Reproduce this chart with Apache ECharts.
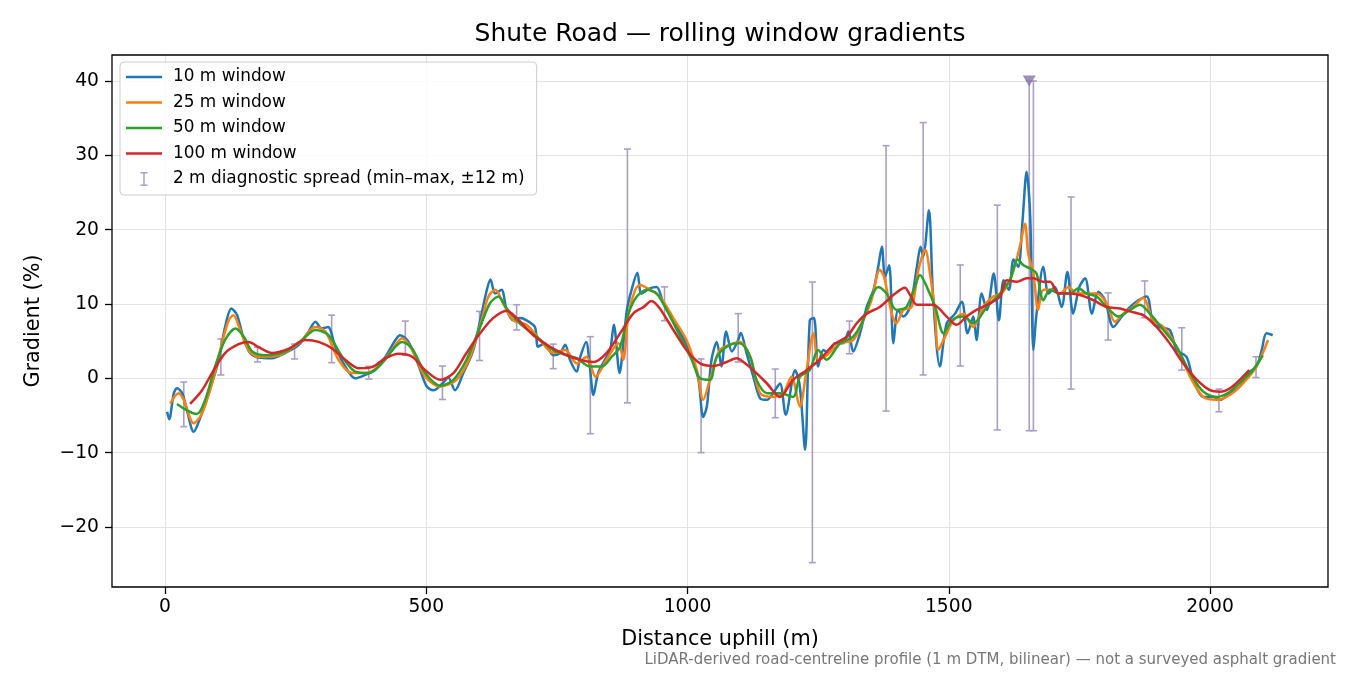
<!DOCTYPE html>
<html>
<head>
<meta charset="utf-8">
<script src="https://cdn.jsdelivr.net/npm/echarts@6/dist/echarts.min.js"></script>
<style>
  html, body { margin: 0; padding: 0; background: #fff; }
  #chart { width: 1350px; height: 675px; }
</style>
</head>
<body>
<div id="chart"></div>
<script>
// distance (m), gradient (%)
var win10 = [
  [4,-4.5],[8,-5.5],[17,-2.0],[23,-1.35],[33,-2.0],[42,-4.3],[55,-7.2],[68,-5.2],[84,-2.0],[103,2.5],
  [115,6.9],[127,9.4],[138,8.5],[151,5.2],[163,3.4],[179,2.8],[205,2.7],[230,3.4],[256,4.5],[275,6.3],
  [288,7.6],[300,6.7],[312,6.9],[326,4.25],[345,1.6],[364,0],[383,0.45],[402,1.1],[422,2.9],[441,5.15],
  [450,5.8],[466,4.9],[486,1.6],[501,-1.1],[514,-1.6],[531,-0.7],[542,0.1],[555,-1.6],[571,0.7],[590,3.8],
  [606,8.7],[616,11.9],[623,13.3],[632,11.4],[644,11.9],[654,9.2],[667,7.8],[679,8.1],[692,7.8],[708,6.9],
  [714,4.25],[727,4.7],[743,3.1],[756,3.4],[766,4.5],[775,2.5],[788,0.9],[794,2.7],[806,4.9],[813,1.6],
  [820,-2.25],[829,0.7],[842,2.5],[852,3.8],[859,7.2],[870,0.7],[878,5.15],[884,9.2],[893,11.9],[904,14.2],
  [912,11.4],[928,12.1],[941,12.3],[954,10.1],[973,7.8],[992,5.4],[1008,2.9],[1021,-0.2],[1030,-5.2],[1037,-3.8],
  [1046,2.5],[1056,4.9],[1065,1.6],[1074,6.3],[1085,3.6],[1097,5.15],[1102,6.1],[1113,3.4],[1126,0.2],[1139,-2.7],
  [1152,-2.9],[1164,-2.0],[1177,-0.7],[1188,-4.9],[1206,1.1],[1215,-1.1],[1225,-9.6],[1234,7.8],[1242,8.1],[1250,1.6],
  [1260,3.8],[1270,3.4],[1282,4.7],[1298,4.7],[1308,6.3],[1317,3.6],[1330,6.0],[1343,9.6],[1356,11.9],[1365,15.0],
  [1372,17.7],[1378,13.7],[1386,15.2],[1394,4.7],[1403,9.2],[1413,8.3],[1426,9.6],[1439,15.0],[1446,17.7],[1451,16.4],
  [1462,22.6],[1470,11.0],[1483,1.6],[1496,7.4],[1512,8.7],[1525,10.3],[1536,6.05],[1547,8.3],[1553,5.15],[1563,11.4],
  [1573,9.2],[1586,14.1],[1596,7.8],[1605,13.2],[1615,11.9],[1624,16.0],[1633,15.0],[1641,21.0],[1649,27.8],[1656,21.5],
  [1662,3.8],[1668,8.7],[1681,15.0],[1691,11.4],[1703,12.3],[1716,9.6],[1727,14.3],[1738,8.7],[1750,12.3],[1761,13.45],
  [1774,8.7],[1786,11.65],[1799,10.5],[1815,6.9],[1831,8.3],[1847,9.6],[1863,10.5],[1879,11.0],[1891,7.4],[1904,6.9],
  [1923,6.5],[1936,3.8],[1955,2.9],[1968,-0.2],[1987,-2.5],[2006,-2.5],[2019,-2.9],[2038,-2.0],[2057,-1.1],[2073,0.7],
  [2089,1.6],[2099,3.8],[2108,6.05],[2120,5.8]
];
var win25 = [
  [10,-3.4],[26,-2.0],[36,-2.9],[55,-6.05],[71,-4.7],[90,-0.7],[109,4.7],[122,7.8],[131,8.5],[144,6.5],
  [160,3.8],[179,2.9],[218,3.1],[256,4.7],[288,6.9],[307,6.3],[332,2.5],[358,0.7],[383,0.7],[409,1.6],
  [434,3.8],[454,5.4],[473,3.8],[498,0.2],[527,-1.1],[558,-0.2],[584,2.9],[606,7.8],[619,11.0],[632,11.9],
  [647,10.1],[667,7.8],[692,7.2],[718,5.15],[743,3.4],[766,3.8],[788,2.0],[807,2.9],[824,0.2],[845,2.5],
  [868,4.7],[877,2.5],[887,8.7],[900,11.9],[909,12.55],[928,11.9],[947,11.0],[973,8.1],[998,5.15],[1018,1.1],
  [1030,-2.9],[1043,-0.2],[1062,3.8],[1088,4.7],[1100,4.9],[1120,2.9],[1139,-2.0],[1164,-2.5],[1183,-2.0],[1199,0.2],
  [1215,-3.8],[1227,0.7],[1241,6.05],[1250,2.5],[1263,2.9],[1292,4.7],[1317,5.15],[1336,7.8],[1352,10.5],[1368,14.6],
  [1376,13.7],[1391,8.7],[1400,7.4],[1413,9.2],[1429,9.6],[1442,14.6],[1455,17.3],[1464,14.1],[1474,8.7],[1480,3.8],
  [1493,5.6],[1509,7.8],[1528,8.7],[1547,6.9],[1566,9.6],[1585,11.0],[1601,11.4],[1620,13.7],[1636,17.7],[1646,20.8],
  [1652,16.8],[1662,14.1],[1671,9.2],[1681,11.9],[1697,11.9],[1713,11.4],[1729,12.3],[1745,11.4],[1764,11.4],[1783,11.4],
  [1802,10.1],[1818,7.6],[1834,8.7],[1853,9.6],[1872,10.8],[1891,7.8],[1911,6.9],[1936,4.25],[1962,0.2],[1987,-2.5],
  [2013,-2.9],[2038,-2.25],[2063,-0.7],[2089,1.6],[2111,5.15]
];
var win50 = [
  [23,-3.45],[42,-4.3],[61,-4.8],[77,-2.9],[96,1.6],[115,5.15],[135,6.7],[151,5.6],[167,3.6],[192,3.1],
  [230,3.6],[262,5.15],[288,6.5],[313,5.8],[339,2.9],[364,0.9],[390,0.7],[415,2.0],[441,4.25],[454,4.9],
  [473,4.0],[498,0.7],[527,-1.0],[552,-0.2],[577,2.5],[603,6.9],[622,10.1],[638,11.0],[654,9.4],[679,7.4],
  [711,5.6],[743,3.8],[769,3.1],[788,2.7],[813,1.6],[836,1.6],[855,2.9],[871,4.25],[887,8.7],[903,11.0],
  [922,11.9],[941,11.4],[960,9.2],[986,5.6],[1008,2.5],[1024,0],[1043,-0.2],[1056,2.9],[1081,4.5],[1100,4.7],
  [1120,2.9],[1132,-0.2],[1152,-2.0],[1177,-2.0],[1202,-2.5],[1215,0.2],[1234,1.1],[1250,3.8],[1266,2.5],[1292,4.7],
  [1317,5.6],[1336,7.8],[1352,11.0],[1365,12.3],[1381,11.4],[1400,9.2],[1419,9.6],[1435,12.3],[1445,13.9],[1458,12.3],
  [1474,9.6],[1490,6.05],[1506,7.8],[1528,8.3],[1547,7.4],[1573,9.6],[1598,11.4],[1617,13.2],[1632,16.0],[1643,15.2],
  [1655,14.8],[1668,14.1],[1681,10.5],[1694,11.9],[1713,11.4],[1732,11.4],[1748,12.1],[1764,11.4],[1783,11.0],[1802,9.6],
  [1825,8.3],[1847,9.2],[1866,9.9],[1885,8.7],[1911,6.5],[1936,4.25],[1962,0.7],[1987,-1.8],[2013,-2.5],[2038,-1.8],
  [2063,-0.2],[2082,1.1],[2101,3.1]
];
var win100 = [
  [48,-3.45],[71,-1.6],[90,0.7],[115,3.4],[141,4.6],[160,4.9],[179,4.2],[205,3.4],[237,4.0],[269,5.15],
  [294,4.9],[320,4.0],[345,2.5],[371,1.35],[396,1.5],[422,2.7],[447,3.3],[473,2.9],[498,1.1],[527,-0.2],
  [552,0.7],[577,3.4],[603,6.05],[628,8.1],[654,9.1],[673,8.1],[705,5.8],[737,4.25],[769,3.1],[794,2.5],
  [820,2.2],[845,3.4],[871,6.05],[896,8.7],[916,9.6],[931,10.4],[947,9.4],[973,6.5],[998,3.8],[1024,2.0],
  [1049,1.65],[1075,2.2],[1094,2.7],[1107,2.2],[1126,1.1],[1152,-0.7],[1177,-2.5],[1202,-0.2],[1228,1.1],[1253,2.5],
  [1279,4.5],[1305,5.6],[1324,7.4],[1343,8.7],[1368,9.6],[1394,11.2],[1416,12.2],[1426,11.2],[1439,9.9],[1470,9.9],
  [1496,8.3],[1515,7.2],[1534,8.3],[1553,9.2],[1579,10.1],[1598,11.0],[1611,13.2],[1630,13.0],[1649,13.45],[1662,13.45],
  [1681,13.0],[1694,13.0],[1710,11.4],[1726,11.4],[1751,11.2],[1777,10.5],[1802,9.6],[1828,9.4],[1847,9.0],[1872,8.5],
  [1898,6.9],[1923,4.7],[1949,2.0],[1975,-0.2],[2000,-1.6],[2019,-1.8],[2038,-1.35],[2057,-0.2],[2075,1.1]
];

// 2 m diagnostic spread: position, min, max
var spreadX  = [36, 107, 177, 248, 319, 390, 460, 531, 602, 673, 743, 814, 885, 956, 1026, 1097,
                1168, 1239, 1310, 1380, 1451, 1522, 1593, 1654, 1662, 1734, 1805, 1875, 1946, 2017, 2088];
var spreadLo = [-6.5, 0.45, 2.2, 2.6, 2.1, -0.1, 3.1, -2.85, 2.4, 6.5, 1.3, -7.45, -3.3, 7.75, -10.0, 2.2,
                -5.3, -24.8, 3.3, -4.4, 0.45, 1.65, -6.95, -7.05, -7.05, -1.45, 5.15, 8.15, 1.1, -4.5, 0.1];
var spreadHi = [-0.5, 5.3, 4.2, 4.6, 8.5, 1.6, 7.7, 1.65, 9.0, 9.9, 4.6, 5.6, 30.85, 12.3, 2.6, 8.7,
                1.25, 12.95, 7.7, 31.3, 34.4, 15.25, 23.3, 40.0, 40.0, 24.4, 11.5, 13.1, 6.8, -1.45, 2.9];
// spread clipped at the top of the plot
var clipped = [[1654, 40]];

var xTicks = [0, 500, 1000, 1500, 2000];
var yTicks = [-20, -10, 0, 10, 20, 30, 40];

var names = ['10 m window', '25 m window', '50 m window', '100 m window',
             '2 m diagnostic spread (min\u2013max, \u00b112 m)'];
var colors = ['#1f77b4', '#ff7f0e', '#2ca02c', '#d62728'];
var spreadColor = '#aa9ec6';
var FONT = 'DejaVu Sans';
var LINE_ICON = 'path://M0,0H36V2.6H0Z';

var spreadData = spreadX.map(function (x, i) { return [x, spreadLo[i], spreadHi[i]]; });

var myChart = echarts.init(document.getElementById('chart'));

function lineSeries(i, data) {
  return {
    name: names[i],
    type: 'line',
    xAxisIndex: 0,
    yAxisIndex: 0,
    data: data,
    showSymbol: false,
    symbol: 'none',
    smooth: 0.3,
    z: 3,
    color: colors[i],
    lineStyle: { width: 2.5, color: colors[i], join: 'round' },
    animation: false
  };
}

var option = {
  animation: false,
  backgroundColor: '#fff',
  textStyle: { fontFamily: FONT },
  grid: [
    // plot area
    { left: 112, top: 55, width: 1216, height: 532, show: true, borderColor: '#000', borderWidth: 1.3, backgroundColor: 'transparent', z: 4 },
    // helper grid for x ticks (0 .. 2000)
    { left: 165, top: 55, width: 1045, height: 532 },
    // helper grid for y ticks (-20 .. 40)
    { left: 112, top: 81, width: 1216, height: 446 }
  ],
  xAxis: [
    { gridIndex: 0, type: 'value', min: -101.4, max: 2225.8, show: false },
    {
      gridIndex: 1, type: 'value', min: xTicks[0], max: xTicks[xTicks.length - 1], interval: 500,
      axisLine: { show: false },
      axisTick: { show: true, length: 7, lineStyle: { color: '#000', width: 1.3 } },
      axisLabel: { fontSize: 18.7, color: '#000', fontFamily: FONT, margin: 11,
        formatter: function (v) { return String(v); } },
      splitLine: { show: true, lineStyle: { color: '#e3e3e3', width: 1 } }
    },
    { gridIndex: 2, type: 'value', min: 0, max: 1, show: false }
  ],
  yAxis: [
    { gridIndex: 0, type: 'value', min: -28.08, max: 43.5, show: false },
    { gridIndex: 1, type: 'value', min: 0, max: 1, show: false },
    {
      gridIndex: 2, type: 'value', min: yTicks[0], max: yTicks[yTicks.length - 1], interval: 10,
      axisLine: { show: false },
      axisTick: { show: true, length: 7, lineStyle: { color: '#000', width: 1.3 } },
      axisLabel: {
        fontSize: 18.7, color: '#000', fontFamily: FONT, margin: 13,
        formatter: function (v) { return v < 0 ? '\u2212' + Math.abs(v) : String(v); }
      },
      splitLine: { show: true, lineStyle: { color: '#e3e3e3', width: 1 } }
    }
  ],
  legend: {
    orient: 'vertical',
    left: 120,
    top: 62,
    padding: [5, 12, 6, 6],
    itemGap: 5.5,
    itemWidth: 36,
    itemHeight: 14,
    backgroundColor: 'rgba(255,255,255,0.85)',
    borderColor: '#cccccc',
    borderWidth: 1,
    borderRadius: 4,
    textStyle: { fontSize: 16.9, color: '#000', fontFamily: FONT, lineHeight: 20, padding: [0, 0, 0, 6] },
    data: [
      { name: names[0], icon: LINE_ICON },
      { name: names[1], icon: LINE_ICON },
      { name: names[2], icon: LINE_ICON },
      { name: names[3], icon: LINE_ICON },
      { name: names[4], icon: 'path://M0,0H7V1.4H4.2V12.6H7V14H0V12.6H2.8V1.4H0Z', itemStyle: { color: spreadColor } }
    ]
  },
  graphic: [
    { type: 'text', x: 720, y: 34, style: { text: 'Shute Road \u2014 rolling window gradients', font: '25px "DejaVu Sans"', fill: '#000', align: 'center', verticalAlign: 'middle', textAlign: 'center', textVerticalAlign: 'middle' } },
    { type: 'text', x: 720, y: 640, style: { text: 'Distance uphill (m)', font: '20.8px "DejaVu Sans"', fill: '#000', align: 'center', verticalAlign: 'middle', textAlign: 'center', textVerticalAlign: 'middle' } },
    { type: 'text', x: 34, y: 321, rotation: Math.PI / 2, style: { text: 'Gradient (%)', font: '20.8px "DejaVu Sans"', fill: '#000', align: 'center', verticalAlign: 'middle', textAlign: 'center', textVerticalAlign: 'middle' } },
    { type: 'text', x: 1336, y: 660, style: { text: 'LiDAR-derived road-centreline profile (1 m DTM, bilinear) \u2014 not a surveyed asphalt gradient', font: '15px "DejaVu Sans"', fill: '#777', align: 'right', verticalAlign: 'middle', textAlign: 'right', textVerticalAlign: 'middle' } }
  ],
  series: [
    {
      name: names[4],
      type: 'custom',
      xAxisIndex: 0,
      yAxisIndex: 0,
      z: 2,
      itemStyle: { color: spreadColor },
      encode: { x: 0, y: [1, 2] },
      data: spreadData,
      renderItem: function (params, api) {
        var x = api.value(0);
        var top = api.coord([x, api.value(2)]);
        var bot = api.coord([x, api.value(1)]);
        var w = 3.5;
        var st = { stroke: spreadColor, lineWidth: 1.6 };
        return {
          type: 'group',
          children: [
            { type: 'line', shape: { x1: top[0], y1: top[1], x2: bot[0], y2: bot[1] }, style: st },
            { type: 'line', shape: { x1: top[0] - w, y1: top[1], x2: top[0] + w, y2: top[1] }, style: st },
            { type: 'line', shape: { x1: bot[0] - w, y1: bot[1], x2: bot[0] + w, y2: bot[1] }, style: st }
          ]
        };
      }
    },
    lineSeries(0, win10),
    lineSeries(1, win25),
    lineSeries(2, win50),
    lineSeries(3, win100),
    {
      name: 'clipped',
      type: 'scatter',
      xAxisIndex: 0,
      yAxisIndex: 0,
      data: clipped,
      symbol: 'triangle',
      symbolRotate: 180,
      symbolSize: [13, 11],
      itemStyle: { color: '#8576a8' },
      z: 5
    }
  ]
};

myChart.setOption(option);
</script>
</body>
</html>
